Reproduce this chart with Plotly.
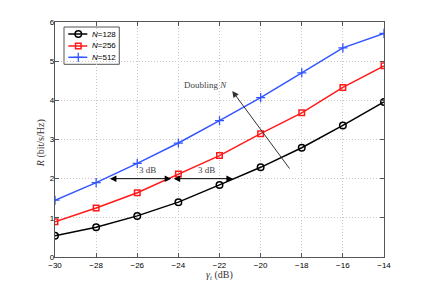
import plotly.graph_objects as go

snr_db = [-30, -28, -26, -24, -22, -20, -18, -16, -14]
rate_n128 = [0.54, 0.76, 1.05, 1.40, 1.84, 2.29, 2.79, 3.36, 3.96]
rate_n256 = [0.90, 1.25, 1.64, 2.12, 2.59, 3.15, 3.68, 4.33, 4.88]
rate_n512 = [1.45, 1.90, 2.39, 2.91, 3.48, 4.07, 4.70, 5.34, 5.71]
series_names = ["<i>N</i>=128", "<i>N</i>=256", "<i>N</i>=512"]
x_ticks = [-30, -28, -26, -24, -22, -20, -18, -16, -14]
y_ticks = [0, 1, 2, 3, 4, 5, 6]

colors = ["black", "#ff1a1a", "#3355ff"]
symbols = ["circle-open", "square-open", "cross-thin-open"]
msizes = [6.5, 5.5, 6.5]
mwidths = [1.5, 1.5, 1.3]
series = [rate_n128, rate_n256, rate_n512]

fig = go.Figure()
for name, vals, c, s, ms, mw in zip(series_names, series, colors, symbols, msizes, mwidths):
    fig.add_trace(go.Scatter(x=snr_db, y=vals, name=name, mode="lines+markers", showlegend=False,
                             line=dict(color=c, width=1.5),
                             marker=dict(symbol=s, size=ms, color=c, line=dict(width=mw, color=c))))

# manual legend (box, samples, labels) in plot-area fraction coordinates
leg_rows = [0.9489, 0.8979, 0.8498]
leg_x0, leg_x1, leg_mx, leg_tx = 0.0404, 0.0982, 0.0708, 0.1064
fig.add_shape(type="rect", xref="paper", yref="paper", x0=0.0274, x1=0.1954, y0=0.82, y1=0.9787,
              line=dict(color="#555555", width=1), fillcolor="white", layer="between")
for name, c, s, ms, mw, ry in zip(series_names, colors, symbols, msizes, mwidths, leg_rows):
    fig.add_trace(go.Scatter(x=[leg_x0, leg_mx, leg_x1], y=[ry, ry, ry], xaxis="x2", yaxis="y2",
                             mode="lines", showlegend=False, hoverinfo="skip",
                             line=dict(color=c, width=1.5)))
    fig.add_trace(go.Scatter(x=[leg_mx], y=[ry], xaxis="x2", yaxis="y2",
                             mode="markers", showlegend=False, hoverinfo="skip",
                             marker=dict(symbol=s, size=ms, color=c, line=dict(width=mw, color=c))))
    fig.add_annotation(x=leg_tx, y=ry, xref="paper", yref="paper", text=name, showarrow=False,
                       xanchor="left", yanchor="middle",
                       font=dict(family="Liberation Sans", size=8, color="black"))

serif = "Liberation Serif"
ann_color = "#444444"
# 3 dB double arrows
for (x0, x1, xt) in [(-27.4, -24.35, -25.5), (-24.3, -21.35, -22.65)]:
    fig.add_annotation(x=x1, y=2.0, ax=x0, ay=2.0, xref="x", yref="y", axref="x", ayref="y",
                       text="", showarrow=True, arrowhead=2, arrowside="end+start",
                       arrowsize=1.3, arrowwidth=1, arrowcolor="black")
    fig.add_annotation(x=xt, y=2.22, xref="x", yref="y", text="3 dB", showarrow=False,
                       font=dict(family=serif, size=9, color=ann_color))
# Doubling N arrow
fig.add_annotation(x=-21.38, y=4.24, ax=-18.54, ay=2.22, xref="x", yref="y", axref="x", ayref="y",
                   text="", showarrow=True, arrowhead=2, arrowsize=1.3, arrowwidth=1,
                   arrowcolor="#333333")
fig.add_annotation(x=-22.7, y=4.39, xref="x", yref="y", text="Doubling <i>N</i>", showarrow=False,
                   font=dict(family=serif, size=9, color=ann_color))

# axis titles
fig.add_annotation(x=0.5, y=-0.08, xref="paper", yref="paper", text="<i>γ<sub>t</sub></i> (dB)",
                   showarrow=False, xanchor="center", yanchor="middle",
                   font=dict(family=serif, size=10, color="#333333"))
fig.add_annotation(x=-0.042, y=0.485, xref="paper", yref="paper", text="<i>R</i> (bit/s/Hz)",
                   showarrow=False, textangle=-90, xanchor="center", yanchor="middle",
                   font=dict(family=serif, size=10, color="#333333"))

axis_common = dict(showline=True, linecolor="#555555", linewidth=1.2, mirror="ticks",
                   ticks="inside", ticklen=4, tickcolor="#555555", automargin=False,
                   showgrid=True, gridcolor="#c8c8c8", griddash="1px,2px", gridwidth=1,
                   zeroline=False, tickfont=dict(family="Liberation Sans", size=8, color="black"))

fig.update_xaxes(range=[-30, -14], tickvals=x_ticks, ticktext=["\u2212" + str(abs(v)) for v in x_ticks],
                 **axis_common)
fig.update_yaxes(range=[0, 6], tickvals=y_ticks, ticklabelstandoff=-2, **axis_common)

fig.update_layout(
    xaxis2=dict(overlaying="x", anchor="y2", range=[0, 1], visible=False, fixedrange=True),
    yaxis2=dict(overlaying="y", anchor="x2", range=[0, 1], visible=False, fixedrange=True),
    width=424, height=289, margin=dict(l=47, r=48, t=14, b=40),
    plot_bgcolor="white", paper_bgcolor="white", showlegend=False)

fig.write_html("out.html")
